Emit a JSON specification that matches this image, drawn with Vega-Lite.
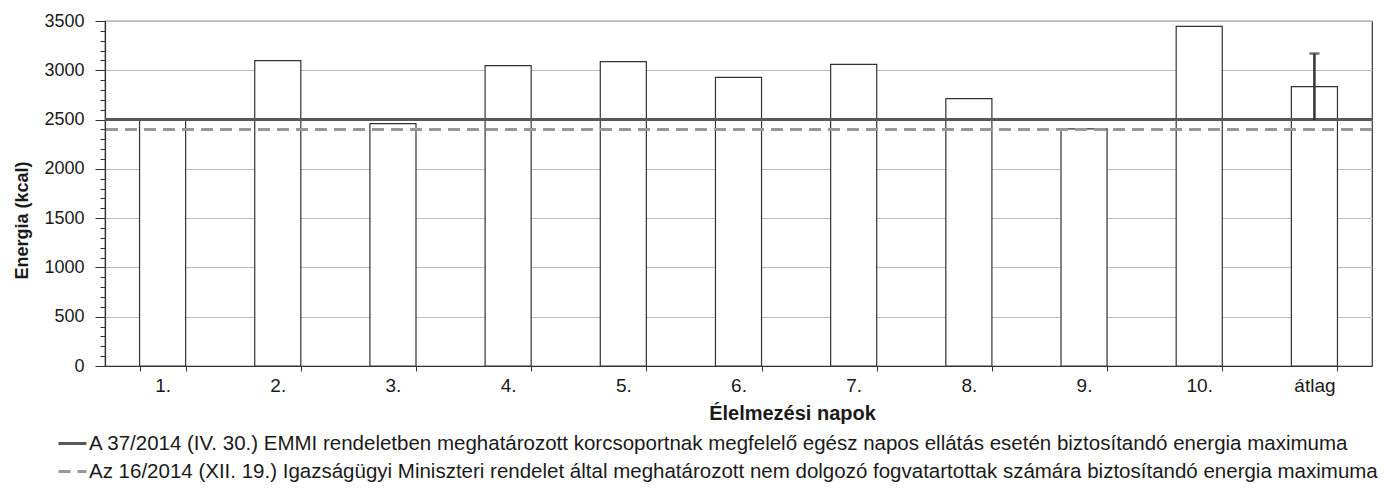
{
  "$schema": "https://vega.github.io/schema/vega-lite/v6.json",
  "autosize": {"type": "none"},
  "width": 1267,
  "height": 345,
  "padding": {"left": 105, "top": 21, "right": 12, "bottom": 127},
  "background": "white",
  "config": {
    "font": "Liberation Sans",
    "view": {"stroke": "#333", "strokeWidth": 1.2},
    "axis": {"labelFont": "Liberation Sans", "titleFont": "Liberation Sans", "labelColor": "#1a1a1a", "titleColor": "#1a1a1a"},
    "legend": {"labelFont": "Liberation Sans"}
  },
  "datasets": {
    "days": [
      {"day": "1.", "energy": 2510},
      {"day": "2.", "energy": 3097},
      {"day": "3.", "energy": 2458},
      {"day": "4.", "energy": 3047},
      {"day": "5.", "energy": 3087},
      {"day": "6.", "energy": 2929},
      {"day": "7.", "energy": 3060},
      {"day": "8.", "energy": 2712},
      {"day": "9.", "energy": 2405},
      {"day": "10.", "energy": 3446},
      {"day": "átlag", "energy": 2834}
    ],
    "limits": [
      {"name": "A 37/2014 (IV. 30.) EMMI rendeletben meghatározott korcsoportnak megfelelő egész napos ellátás esetén biztosítandó energia maximuma", "energy": 2500},
      {"name": "Az 16/2014 (XII. 19.) Igazságügyi Miniszteri rendelet által meghatározott nem dolgozó fogvatartottak számára biztosítandó energia maximuma", "energy": 2400}
    ],
    "err": [
      {"day": "átlag", "energy": 2495, "hi": 3170}
    ],
    "cap": [
      {"day": "átlag", "energy": 3170}
    ]
  },
  "encoding": {
    "x": {
      "field": "day", "type": "ordinal",
      "scale": {"domain": ["1.", "2.", "3.", "4.", "5.", "6.", "7.", "8.", "9.", "10.", "átlag"], "paddingInner": 0.6, "paddingOuter": 0.3},
      "axis": {
        "title": "Élelmezési napok", "titleFontSize": 20, "titleFontWeight": "bold", "titlePadding": 8,
        "titleX": 687,
        "labelAngle": 0, "labelFontSize": 19, "labelPadding": 5,
        "tickBand": "extent", "tickSize": 5, "tickColor": "#333", "domainColor": "#333", "domainWidth": 1.2, "grid": false
      }
    },
    "y": {
      "field": "energy", "type": "quantitative",
      "scale": {"domain": [0, 3500], "nice": false},
      "axis": {
        "title": "Energia (kcal)", "titleFontSize": 18, "titleFontWeight": "bold", "titlePadding": 12,
        "titleY": 199,
        "values": [0,100,200,300,400,500,600,700,800,900,1000,1100,1200,1300,1400,1500,1600,1700,1800,1900,2000,2100,2200,2300,2400,2500,2600,2700,2800,2900,3000,3100,3200,3300,3400,3500],
        "labelExpr": "datum.value % 500 === 0 ? datum.label : ''",
        "labelOverlap": false,
        "format": "d",
        "labelFontSize": 18, "labelPadding": 11,
        "tickSize": {"condition": {"test": "datum.value % 500 === 0", "value": 10}, "value": 5},
        "tickColor": "#333", "domainColor": "#333", "domainWidth": 1.2,
        "grid": true, "gridColor": "#bbb", "gridWidth": 1.2,
        "gridOpacity": {"condition": {"test": "datum.value % 500 === 0", "value": 1}, "value": 0}
      }
    }
  },
  "layer": [
    {
      "data": {"name": "days"},
      "mark": {"type": "bar", "fill": "white", "stroke": "#333", "strokeWidth": 1.2}
    },
    {
      "data": {"name": "limits"},
      "mark": {"type": "rule", "strokeWidth": 3},
      "encoding": {
        "x": null,
        "color": {
          "field": "name", "type": "nominal",
          "scale": {"range": ["#58585c", "#999999"]},
          "legend": {
            "title": null, "orient": "none", "legendX": -48, "legendY": 407,
            "symbolType": "stroke", "symbolSize": 784, "symbolStrokeWidth": 3,
            "labelFontSize": 20.5, "labelColor": "#1a1a1a", "labelLimit": 0, "rowPadding": 2, "labelOffset": 1,
            "encode": {"symbols": {"update": {"strokeDash": {"signal": "indexof(datum.value, 'Az') === 0 ? [7, 4] : [1, 0]"}}}}
          }
        },
        "strokeDash": {
          "field": "name", "type": "nominal",
          "scale": {"range": [[1, 0], [12, 7]]},
          "legend": {
            "title": null, "orient": "none", "legendX": -48, "legendY": 407,
            "symbolType": "stroke", "symbolSize": 784, "symbolStrokeWidth": 3,
            "labelFontSize": 20.5, "labelColor": "#1a1a1a", "labelLimit": 0, "rowPadding": 2, "labelOffset": 1,
            "encode": {"symbols": {"update": {"strokeDash": {"signal": "indexof(datum.value, 'Az') === 0 ? [7, 4] : [1, 0]"}}}}
          }
        }
      }
    },
    {
      "data": {"name": "err"},
      "mark": {"type": "rule", "color": "#333", "strokeWidth": 2.5},
      "encoding": {
        "y2": {"field": "hi"}
      }
    },
    {
      "data": {"name": "cap"},
      "mark": {"type": "tick", "color": "#333", "thickness": 2.5, "size": 10}
    }
  ]
}
